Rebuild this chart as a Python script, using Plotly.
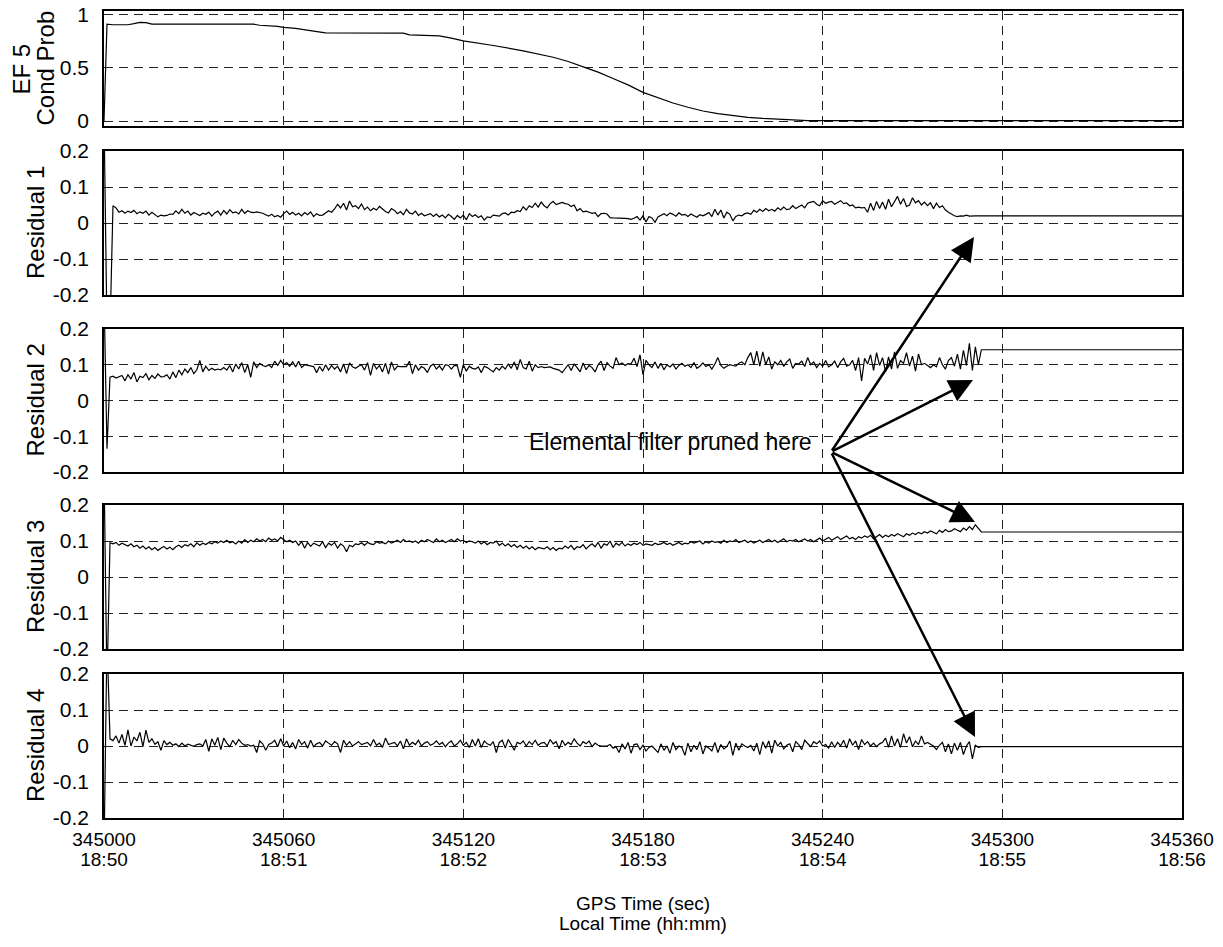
import plotly.graph_objects as go

# ---------------- data ----------------
T0 = 345000
T_END = 345360
x_tick_vals = [345000, 345060, 345120, 345180, 345240, 345300, 345360]
x_tick_gps = ["345000", "345060", "345120", "345180", "345240", "345300", "345360"]
x_tick_local = ["18:50", "18:51", "18:52", "18:53", "18:54", "18:55", "18:56"]

# EF 5 conditional probability
prob_t = [345000, 345001, 345003, 345008, 345010, 345012, 345014, 345016, 345050, 345052,
          345058, 345060, 345064, 345067, 345070, 345074, 345100, 345102, 345112, 345116,
          345120, 345130, 345140, 345150, 345155, 345161, 345165, 345170, 345175, 345180,
          345185, 345190, 345195, 345200, 345205, 345210, 345215, 345220, 345228, 345235, 345360]
prob_v = [0.0, 0.91, 0.905, 0.905, 0.915, 0.927, 0.925, 0.91, 0.91, 0.90,
          0.89, 0.88, 0.87, 0.855, 0.845, 0.828, 0.826, 0.81, 0.80, 0.78,
          0.753, 0.71, 0.66, 0.60, 0.56, 0.50, 0.46, 0.40, 0.34, 0.27,
          0.22, 0.17, 0.13, 0.095, 0.07, 0.05, 0.035, 0.025, 0.015, 0.005, 0.005]

# residuals in thousandths, one sample per second
res1_start = [300, -300, -300]
res1_noise = [
    48, 42, 30, 34, 27, 33, 29, 35, 26, 31,
    27, 33, 22, 30, 24, 17, 22, 20, 21, 25,
    24, 34, 26, 38, 27, 33, 22, 29, 25, 21,
    27, 24, 30, 19, 28, 33, 22, 35, 25, 37,
    28, 31, 25, 38, 27, 34, 30, 29, 31, 30,
    27, 23, 19, 24, 17, 21, 16, 26, 33, 24,
    30, 22, 27, 20, 29, 23, 31, 18, 26, 21,
    22, 28, 34, 30, 39, 52, 42, 55, 36, 61,
    45, 48, 40, 53, 37, 44, 34, 41, 36, 46,
    39, 32, 28, 40, 35, 26, 32, 23, 38, 28,
    25, 33, 21, 27, 20, 24, 26, 18, 25, 17,
    22, 14, 24, 18, 10, 21, 14, 22, 9, 26,
    18, 23, 15, 20, 8, 17, 15, 22, 20, 19,
    26, 28, 22, 30, 29, 34, 32, 45, 36, 48,
    43, 55, 44, 58, 48, 42, 54, 60, 51, 55,
    57, 54, 52, 46, 50, 34, 40, 31, 33, 30,
    27, 29, 18, 26, 27, 25, 15, 14, 14, 14,
    15, 13, 12, 10, 13, 18, 8, 20, 3, 18,
    14, 2, 17, 22, 26, 20, 28, 24, 19, 28,
    22, 24, 18, 25, 20, 16, 23, 20, 24, 29,
    18, 38, 22, 36, 14, 30, 24, 6, 18, 22,
    20, 26, 28, 24, 35, 30, 38, 32, 40, 34,
    38, 33, 42, 36, 44, 37, 39, 48, 40, 45,
    50, 42, 55, 58, 60, 52, 48, 62, 55, 58,
    60, 52, 56, 62, 54, 56, 48, 50, 42, 44,
    42, 43, 30, 55, 35, 60, 40, 58, 38, 66,
    45, 60, 74, 52, 68, 46, 50, 70, 56, 62,
    50, 58, 48, 56, 40, 55, 43, 48, 36, 30,
    24, 20, 18, 20, 19, 22, 19, 20]
res1_final = 20

res2_start = [300, -135, 65]
res2_noise = [
    68, 63, 66, 70, 55, 72, 60, 78, 52, 68,
    64, 75, 58, 70, 62, 74, 66, 67, 72, 60,
    80, 64, 85, 72, 88, 78, 92, 75, 86, 112,
    80, 96, 84, 90, 85, 88, 86, 92, 85, 98,
    80, 102, 88, 106, 78, 100, 65, 108, 92, 104,
    98, 95, 100, 92, 110, 98, 112, 100, 106, 96,
    108, 94, 110, 92, 100, 98, 96, 95, 78, 95,
    82, 100, 85, 98, 88, 96, 80, 102, 75, 105,
    94, 90, 96, 100, 85, 106, 70, 104, 88, 98,
    80, 104, 74, 108, 85, 96, 95, 95, 95, 110,
    75, 100, 85, 95, 90, 78, 96, 102, 88, 97,
    85, 100, 98, 88, 98, 97, 65, 100, 82, 96,
    90, 88, 94, 78, 96, 92, 85, 80, 92, 85,
    96, 88, 102, 90, 108, 86, 115, 92, 88, 110,
    82, 100, 92, 95, 92, 93, 94, 90, 88, 85,
    78, 90, 100, 84, 102, 92, 80, 105, 86, 98,
    92, 80, 100, 110, 84, 106, 96, 90, 120, 100,
    105, 98, 103, 102, 118, 95, 128, 72, 112, 100,
    92, 108, 90, 104, 86, 100, 94, 102, 88, 98,
    104, 96, 100, 92, 106, 90, 96, 105, 95, 100,
    88, 102, 120, 98, 90, 96, 100, 98, 96, 104,
    108, 100, 120, 134, 100, 138, 96, 136, 100, 122,
    88, 108, 100, 112, 95, 108, 116, 90, 104, 102,
    110, 95, 120, 100, 108, 92, 104, 96, 112, 94,
    100, 110, 92, 108, 118, 96, 100, 112, 84, 120,
    55, 118, 102, 128, 84, 134, 98, 120, 80, 122,
    88, 136, 90, 112, 104, 134, 96, 124, 82, 130,
    100, 104, 98, 92, 100, 94, 120, 100, 88, 112,
    120, 96, 130, 88, 140, 98, 160, 84, 150, 100]
res2_final = 142

res3_start = [300, -300, 95]
res3_noise = [
    92, 96, 88, 94, 90, 86, 92, 84, 88, 80,
    86, 78, 84, 76, 82, 74, 80, 85, 78, 83,
    76, 84, 88, 82, 90, 86, 92, 84, 95, 88,
    94, 90, 96, 92, 98, 94, 100, 96, 102, 95,
    98, 92, 100, 94, 104, 96, 102, 98, 106, 100,
    104, 98, 108, 102, 106, 100, 110, 104, 98, 102,
    96, 100, 88, 98, 80, 96, 85, 94, 90, 86,
    98, 82, 94, 88, 96, 80, 92, 86, 70, 88,
    84, 92, 90, 95, 88, 96, 92, 90, 98, 94,
    96, 92, 100, 94, 98, 102, 96, 104, 98, 100,
    96, 100, 94, 102, 98, 104, 100, 96, 106, 98,
    102, 96, 100, 104, 98, 106, 100, 102, 96, 100,
    98, 94, 100, 92, 98, 90, 96, 94, 100, 88,
    94, 86, 92, 84, 90, 82, 88, 80, 86, 78,
    84, 76, 82, 80, 78, 84, 76, 82, 74, 80,
    78, 86, 80, 88, 76, 84, 82, 90, 78, 86,
    92, 84, 96, 80, 92, 88, 100, 82, 94, 88,
    96, 86, 92, 88, 94, 90, 96, 88, 92, 90,
    88, 94, 90, 92, 96, 90, 94, 88, 92, 96,
    90, 94, 92, 98, 94, 96, 100, 92, 98, 94,
    100, 96, 98, 94, 102, 96, 100, 98, 104, 96,
    98, 102, 96, 100, 94, 98, 102, 96, 100, 104,
    98, 102, 96, 100, 106, 98, 102, 100, 104, 98,
    102, 106, 100, 104, 98, 102, 108, 100, 104, 110,
    102, 106, 112, 104, 108, 114, 106, 110, 104, 112,
    108, 114, 110, 116, 106, 112, 118, 110, 116, 112,
    118, 114, 120, 116, 112, 120, 116, 122, 118, 124,
    120, 126, 122, 128, 124, 120, 130, 124, 132, 126,
    128, 134, 130, 126, 136, 130, 140, 132, 145, 135]
res3_final = 125

res4_start = [-300, 300, 20]
res4_noise = [
    15, 28, 8, 32, 2, 45, 0, 25, 14, 38,
    -2, 44, 10, 20, 5, 12, -12, 15, 4, 10,
    2, 6, -2, 8, 0, 5, 3, -1, 4, 6,
    0, 18, -15, 20, 2, 24, -10, 22, 8, -2,
    16, 4, 18, 8, 2, 4, 0, 2, -18, 14,
    6, -12, 4, 8, 16, -2, 20, 0, 14, -5,
    10, -8, 18, 4, 12, -6, 16, -2, 6, 10,
    0, 14, 8, 2, 12, 6, -18, 16, 2, 12,
    0, 6, 12, 4, 8, 10, 0, 18, 2, 8,
    -4, 22, 4, 6, 10, 0, 14, -8, 20, 2,
    10, 4, 16, 0, 8, 12, 2, 6, 14, 4,
    10, -2, 8, 14, 0, 6, 16, 2, 10, -4,
    18, 0, 20, -4, 14, 6, 2, 12, -18, 10,
    16, -6, 18, 4, -12, 10, 6, 14, 0, 12,
    4, 16, 2, 8, 10, 0, 18, 6, 12, -8,
    16, 2, 10, 4, 20, 8, 0, 12, 6, 14,
    -2, 8, 2, 0, 0, 0, 4, -6, -2, -18,
    6, -8, 10, -20, 4, 6, -10, 2, -14, -4,
    0, -8, -18, 6, -12, 0, -20, 10, -10, 0,
    -4, -26, 8, -16, 2, -10, 12, -22, 0, -6,
    -14, 10, -18, 4, -8, -2, 14, -26, 8, -12,
    6, 0, -4, 2, -14, 8, -24, 12, -6, 14,
    -20, 16, 0, 10, -8, 2, 6, -16, 12, 4,
    -10, 16, 8, -2, 12, 6, 14, 0, 4, -6,
    12, -4, 10, 0, 16, -6, 20, 2, 14, -10,
    18, 4, 12, 0, 8, -2, 6, 10, 22, -4,
    28, 0, 20, -4, 34, 8, 26, -2, 14, 4,
    28, 6, 10, 4, 0, -10, 2, 10, -16, 6,
    -22, 8, -12, 10, -24, 0, 12, -36, 2, -4]
res4_final = -2

res_tick_vals = [-0.2, -0.1, 0, 0.1, 0.2]
res_tick_text = ["-0.2", "-0.1", "0", "0.1", "0.2"]
prob_tick_vals = [0, 0.5, 1]
prob_tick_text = ["0", "0.5", "1"]

panel_titles = [["EF 5", "Cond Prob"], ["Residual 1"], ["Residual 2"], ["Residual 3"], ["Residual 4"]]
x_title_lines = ["GPS Time (sec)", "Local Time (hh:mm)"]
annot_text = "Elemental filter pruned here"


def build_series(start, noise, final):
    vals = start + noise
    t = [T0 + i for i in range(len(vals))]
    # after pruning the residual holds its final value
    t += [t[-1] + 1, T_END]
    vals = vals + [final, final]
    return t, [v / 1000.0 for v in vals]


series = [(prob_t, prob_v)]
for s, n_, f in [(res1_start, res1_noise, res1_final),
                 (res2_start, res2_noise, res2_final),
                 (res3_start, res3_noise, res3_final),
                 (res4_start, res4_noise, res4_final)]:
    series.append(build_series(s, n_, f))

# ---------------- layout geometry (pixels) ----------------
W, H = 1223, 947
X_LEFT, X_RIGHT = 104, 1182
panels_px = [(11, 126), (151, 295), (329, 472), (505, 649), (674, 818)]
FONT = "Liberation Sans, Arial, sans-serif"


def py(p):
    return 1 - p / H


fig = go.Figure()
layout = dict(
    width=W, height=H,
    margin=dict(l=0, r=0, t=0, b=0, pad=0, autoexpand=False),
    paper_bgcolor="white", plot_bgcolor="white",
    showlegend=False,
    font=dict(family=FONT, color="black"),
)

grid_style = dict(showgrid=True, gridcolor="#222", griddash="9px,6px", gridwidth=1,
                  zeroline=False, showline=True, linecolor="black", linewidth=1.5,
                  mirror=True, ticks="", automargin=False)

n = len(series)
for i, (t, v) in enumerate(series):
    k = "" if i == 0 else str(i + 1)
    fig.add_trace(go.Scatter(x=t, y=v, mode="lines",
                             line=dict(color="black", width=1.2),
                             xaxis="x" + k, yaxis="y" + k, hoverinfo="skip"))
    top, bot = panels_px[i]
    last = i == n - 1
    layout["xaxis" + k] = dict(
        domain=[X_LEFT / W, X_RIGHT / W], anchor="y" + k,
        range=[T0, T_END], tickvals=x_tick_vals, ticktext=x_tick_gps,
        showticklabels=last,
        tickfont=dict(size=19, family=FONT, color="black"),
        ticklabelstandoff=3, **grid_style)
    if i == 0:
        tv, tt, rng = prob_tick_vals, prob_tick_text, [-0.046, 1.034]
    else:
        tv, tt, rng = res_tick_vals, res_tick_text, [-0.2, 0.2]
    layout["yaxis" + k] = dict(
        domain=[py(bot), py(top)], anchor="x" + k,
        range=rng, tickvals=tv, ticktext=tt,
        tickfont=dict(size=21, family=FONT, color="black"),
        ticklabelstandoff=9, **grid_style)

# second row of x tick labels (local time) on an overlaying axis
kx = str(n + 1)
layout["xaxis" + kx] = dict(
    domain=[X_LEFT / W, X_RIGHT / W], anchor="y" + str(n), overlaying="x" + str(n),
    side="bottom", range=[T0, T_END], tickvals=x_tick_vals, ticktext=x_tick_local,
    tickfont=dict(size=19, family=FONT, color="black"),
    ticklabelstandoff=28, showgrid=False, zeroline=False, showline=False, ticks="",
    automargin=False)
fig.add_trace(go.Scatter(x=[T0, T_END], y=[None, None], mode="lines",
                         xaxis="x" + kx, yaxis="y" + str(n), hoverinfo="skip",
                         showlegend=False))

annotations = []
# y-axis titles
for i, lines in enumerate(panel_titles):
    top, bot = panels_px[i]
    xs = [35] if len(lines) == 1 else [21, 45]
    for line, xp in zip(lines, xs):
        annotations.append(dict(
            text=line, textangle=-90, showarrow=False,
            xref="paper", yref="paper", x=xp / W, y=py((top + bot) / 2),
            xanchor="center", yanchor="middle",
            font=dict(size=24, family=FONT, color="black")))

# x-axis title
for line, yp in zip(x_title_lines, [903, 923]):
    annotations.append(dict(
        text=line, showarrow=False,
        xref="paper", yref="paper", x=643 / W, y=py(yp),
        xanchor="center", yanchor="middle",
        font=dict(size=19, family=FONT, color="black")))

# callout text
annotations.append(dict(
    text=annot_text, showarrow=False,
    xref="paper", yref="paper", x=670 / W, y=py(442),
    xanchor="center", yanchor="middle",
    font=dict(size=23, family=FONT, color="black")))

# arrows (tail at common origin, tips near the pruning point in each residual panel)
tail = (831, 452)
tips = [(974, 237), (973, 380), (975, 522), (975, 737)]
for tx, ty in tips:
    annotations.append(dict(
        text="", showarrow=True,
        xref="paper", yref="paper", x=tx / W, y=py(ty),
        axref="pixel", ayref="pixel", ax=tail[0] - tx, ay=tail[1] - ty,
        arrowhead=2, arrowsize=1.9, arrowwidth=2.5, arrowcolor="black",
        standoff=0, startstandoff=0))

layout["annotations"] = annotations
fig.update_layout(**layout)
fig.write_html("out.html")
